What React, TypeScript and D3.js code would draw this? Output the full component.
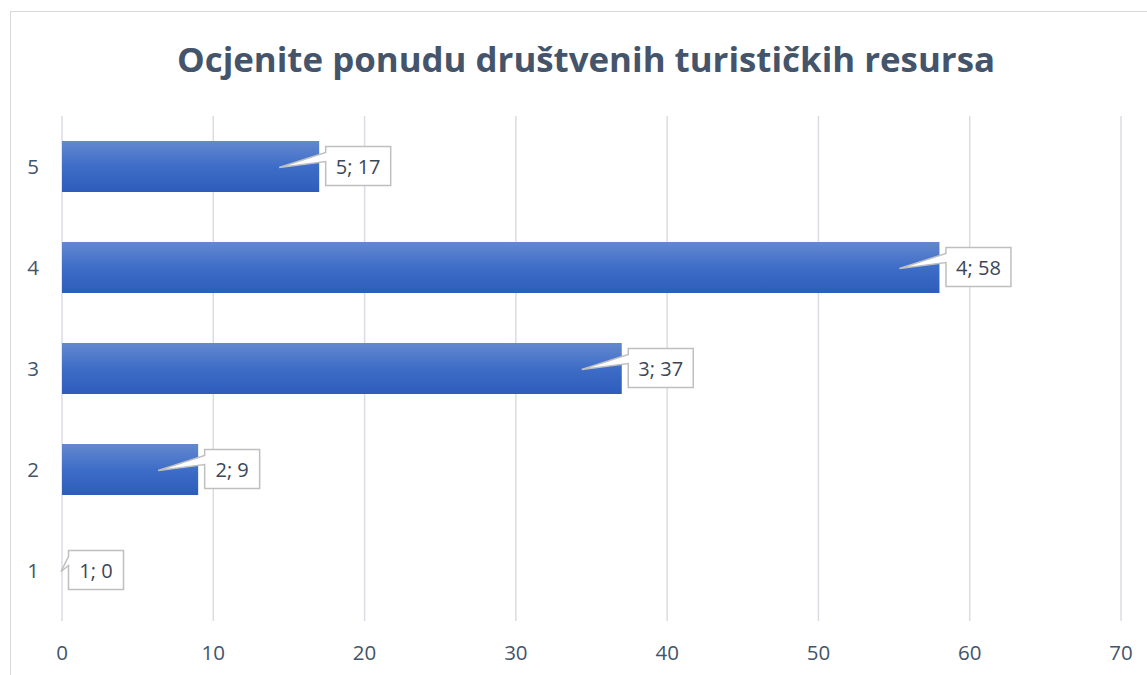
import React from "react";
import * as d3 from "d3";

const title = "Ocjenite ponudu društvenih turističkih resursa";
const categories = ["1", "2", "3", "4", "5"];
const values = [0, 9, 37, 58, 17];
const xTicks = [0, 10, 20, 30, 40, 50, 60, 70];

const W = 1147;
const H = 675;
const M = { left: 62, right: 1121, top: 116, bottom: 621 };
const FONT = "'Open Sans', 'Liberation Sans', sans-serif";

export default function App() {
  const x = d3.scaleLinear().domain([0, 70]).range([M.left, M.right]);
  const y = d3
    .scaleBand()
    .domain([...categories].reverse())
    .range([M.top, M.bottom])
    .paddingInner(0.495)
    .paddingOuter(0.2475);

  const textColor = "#44546A";

  return (
    <svg
      width={W}
      height={H}
      style={{ position: "absolute", left: 0, top: 0, background: "#fff" }}
      fontFamily={FONT}
    >
      <defs>
        <linearGradient id="barGrad" x1="0" y1="0" x2="0" y2="1">
          <stop offset="0%" stopColor="#6488CF" />
          <stop offset="50%" stopColor="#3E6DC8" />
          <stop offset="100%" stopColor="#2D5DBA" />
        </linearGradient>
      </defs>
      <rect x={10.5} y={11.5} width={W} height={H} fill="#fff" stroke="#D9D9D9" strokeWidth={1} />
      <text
        x={586}
        y={72}
        textAnchor="middle"
        fontSize={33.5}
        fontWeight="bold"
        fill={textColor}
        textLength={818}
        lengthAdjust="spacingAndGlyphs"
      >
        {title}
      </text>
      {xTicks.map((t) => (
        <g key={t}>
          <line
            x1={x(t)}
            x2={x(t)}
            y1={M.top}
            y2={M.bottom}
            stroke="#D9DDE3"
            strokeWidth={1.5}
          />
          <text
            x={x(t)}
            y={660}
            textAnchor="middle"
            fontSize={20.5}
            fill={textColor}
          >
            {t}
          </text>
        </g>
      ))}
      {categories.map((c, i) => {
        const v = values[i];
        const by = y(c)!;
        const bh = y.bandwidth();
        const cy = by + bh / 2;
        const x0 = x(0);
        const xe = x(v);
        const label = `${c}; ${v}`;
        const bx = xe + 6.5;
        const bw = label.length * 10 + 15;
        const bTop = cy - 20;
        const bHgt = 39;
        const tipX = Math.max(x0 - 1, xe - 40);
        const tipY = cy + 1;
        const w1 = bTop + 6;
        const w2 = bTop + 15;
        const path = `M${bx},${bTop} L${bx + bw},${bTop} L${bx + bw},${bTop + bHgt} L${bx},${bTop + bHgt} L${bx},${w2} L${tipX},${tipY} L${bx},${w1} Z`;
        return (
          <g key={c}>
            <text
              x={33}
              y={cy + 7.5}
              textAnchor="middle"
              fontSize={20.5}
              fill={textColor}
            >
              {c}
            </text>
            {v > 0 && (
              <rect x={x0} y={by} width={xe - x0} height={bh} fill="url(#barGrad)" />
            )}
            <path d={path} fill="#fff" stroke="#BFBFBF" strokeWidth={1.5} />
            <text
              x={bx + bw / 2}
              y={cy + 7.5}
              textAnchor="middle"
              fontSize={20}
              fill="#3B4658"
            >
              {label}
            </text>
          </g>
        );
      })}
    </svg>
  );
}
